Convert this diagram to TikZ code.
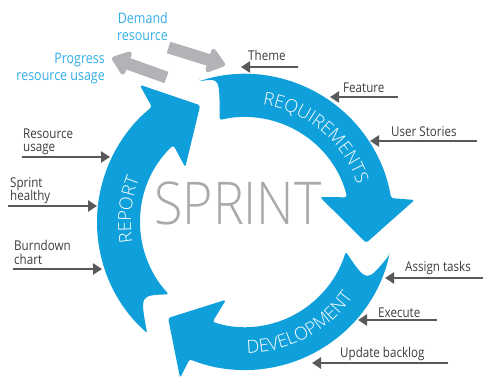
\documentclass[tikz,border=0pt]{standalone}
\usepackage{fontspec}
\usetikzlibrary{arrows.meta,calc,decorations.text}

\IfFontExistsTF{Open Sans Light}
  {\newfontfamily\thinfont[FakeStretch=0.88]{Open Sans Light}
   \newfontfamily\wordfont{Open Sans Light}}
  {\newfontfamily\thinfont[FakeStretch=0.88]{Open Sans}
   \newfontfamily\wordfont{Open Sans}}
\newfontfamily\plainfont[FakeStretch=0.86]{Open Sans}
\newcommand\ringtext{\wordfont\fontsize{18}{18}\selectfont}

\definecolor{ringblue}{HTML}{0FA0DB}
\definecolor{inkgray}{HTML}{58595B}
\definecolor{paleblock}{HTML}{B1B3B6}
\definecolor{sprintgray}{HTML}{A7A9AC}
\definecolor{labelgray}{HTML}{3C3C3C}
\definecolor{noteblue}{HTML}{33AEE5}

\begin{document}
\begin{tikzpicture}[x=1pt,y=1pt,>={Triangle[length=9pt,width=11pt]},
  ring/.style={fill=ringblue, rounded corners=2.5pt},
  feed/.style={->, color=inkgray, line width=2.4pt},
  block/.style={color=paleblock, line width=12pt, -{Triangle[length=19pt,width=28pt,round]}},
  lbl/.style={text=labelgray, font=\plainfont\fontsize{13.5}{13.5}\selectfont, align=left, inner sep=0pt},
  note/.style={text=noteblue, font=\plainfont\fontsize{14.5}{17}\selectfont, align=right, inner sep=0pt}]

\useasboundingbox (0,0) rectangle (484,380);
\coordinate (C) at (245,158);

% define the ring arrows
\fill[ring] ($(C)+(108:148)$) arc[start angle=108, end angle=9.3, radius=148pt]
  -- ($(C)+(7.4:171)$) -- ($(C)+(-9.8:123)$) -- ($(C)+(18.4:79)$) -- ($(C)+(13.6:105)$)
  arc[start angle=13.6, end angle=104, radius=105pt]
  .. controls ($(C)+(100:146)$) .. ($(C)+(108:148)$) -- cycle;
\fill[ring] ($(C)+(-13:148)$) arc[start angle=-13, end angle=-112, radius=148pt]
  -- ($(C)+(-112.6:169)$) -- ($(C)+(-128.7:123)$) -- ($(C)+(-103.7:80)$) -- ($(C)+(-108:105)$)
  arc[start angle=-108, end angle=-16.4, radius=105pt]
  .. controls ($(C)+(-26.5:136)$) .. ($(C)+(-13:148)$) -- cycle;
\fill[ring] ($(C)+(228.6:148)$) arc[start angle=228.6, end angle=129, radius=148pt]
  -- ($(C)+(127.5:173)$) -- ($(C)+(111:125)$) -- ($(C)+(137.5:81)$) -- ($(C)+(133:105)$)
  arc[start angle=133, end angle=223.5, radius=105pt]
  .. controls ($(C)+(215:128)$) .. ($(C)+(228.6:148)$) -- cycle;

% the words on the ring
\path[decorate, decoration={text along path, text align=center, text color=white,
  text={|\ringtext|REQUIREMENTS}}]
  ($(C)+(110:118.5)$) arc[start angle=110, end angle=-10, radius=118.5pt];
\path[decorate, decoration={text along path, text align=center, text color=white,
  text={|\ringtext|DEVELOPMENT}}]
  ($(C)+(-122:131.5)$) arc[start angle=-122, end angle=-2, radius=131.5pt];
\path[decorate, decoration={text along path, text align=center, text color=white,
  text={|\ringtext|REPORT}}]
  ($(C)+(234:114)$) arc[start angle=234, end angle=114, radius=114pt];

\node[font=\thinfont\fontsize{59}{59}\selectfont, text=sprintgray, anchor=base, inner sep=0pt]
  (sprint) at (238,155) {SPRINT};

% define the inputs (base = last line)
\node[lbl, anchor=base west] (theme)    at (248,319) {Theme};
\node[lbl, anchor=base west] (feature)  at (343,287) {Feature};
\node[lbl, anchor=base west] (stories)  at (391,243) {User Stories};
\node[lbl, anchor=base west] (assign)   at (405,108) {Assign tasks};
\node[lbl, anchor=base west] (execute)  at (378,63)  {Execute};
\node[lbl, anchor=base west] (backlog)  at (340,23)  {Update backlog};
\node[lbl, anchor=base west] (usage)    at (23,228)  {Resource\\usage};
\node[lbl, anchor=base west] (healthy)  at (10,179)  {Sprint\\healthy};
\node[lbl, anchor=base west] (burndown) at (14,116)  {Burndown\\chart};

\coordinate (theme0) at (298,313);    \coordinate (theme1) at (241,313);
\coordinate (feature0) at (398,283);  \coordinate (feature1) at (330,283);
\coordinate (stories0) at (477,239);  \coordinate (stories1) at (370,239);
\coordinate (assign0) at (483,102);   \coordinate (assign1) at (385,102);
\coordinate (execute0) at (437,60);   \coordinate (execute1) at (358,60);
\coordinate (backlog0) at (448,17);   \coordinate (backlog1) at (312,17);
\coordinate (usage0) at (22,223);     \coordinate (usage1) at (110,223);
\coordinate (healthy0) at (8,174);    \coordinate (healthy1) at (97,174);
\coordinate (burndown0) at (13,111);  \coordinate (burndown1) at (102,111);

\path[feed] (theme0) edge (theme1)
            (feature0) edge (feature1)
            (stories0) edge (stories1)
            (assign0) edge (assign1)
            (execute0) edge (execute1)
            (backlog0) edge (backlog1)
            (usage0) edge (usage1)
            (healthy0) edge (healthy1)
            (burndown0) edge (burndown1);

% resource loop
\node[note, anchor=base east] (demand)   at (168,339) {Demand\\resource};
\node[note, anchor=base east] (progress) at (105,299) {Progress\\resource usage};
\coordinate (demand0) at (168.5,332.5);   \coordinate (demand1) at (225,315);
\coordinate (progress0) at (166.5,302.5); \coordinate (progress1) at (112,322);
\path[block] (demand0) edge (demand1)
             (progress0) edge (progress1);

\end{tikzpicture}
\end{document}
